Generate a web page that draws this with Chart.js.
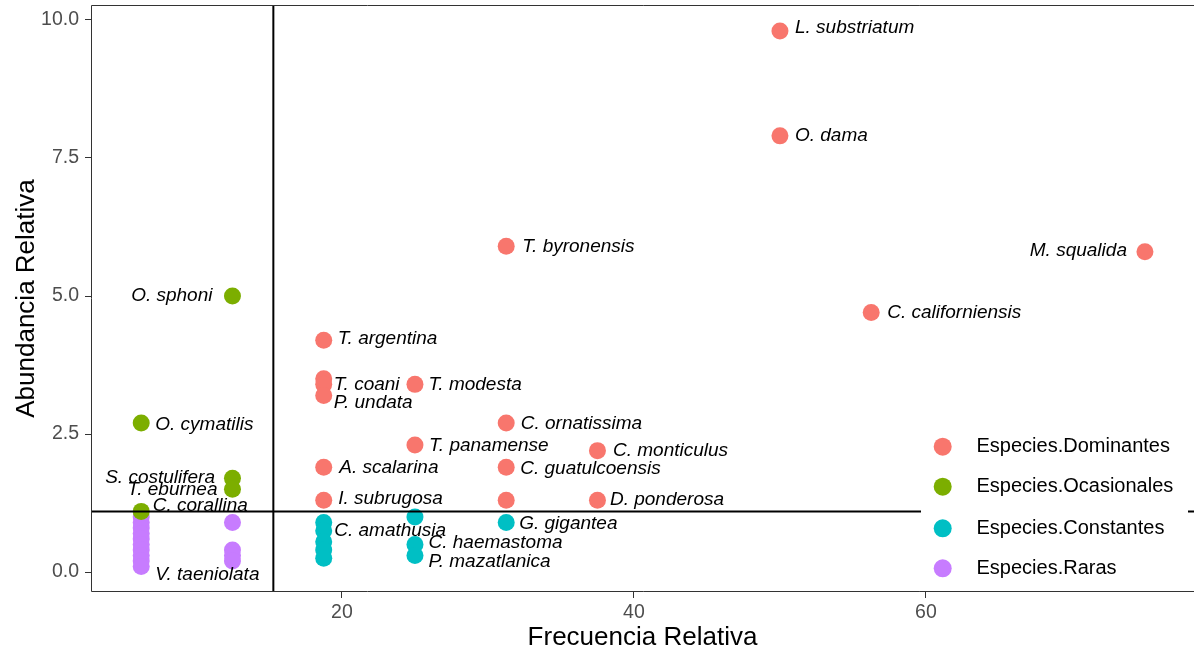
<!DOCTYPE html>
<html>
<head>
<meta charset="utf-8">
<script src="https://cdn.jsdelivr.net/npm/chart.js@4.4.1/dist/chart.umd.min.js"></script>
<style>
  html, body { margin: 0; padding: 0; background: #fff; }
  canvas { display: block; }
</style>
</head>
<body>
<canvas id="c" width="1194" height="653"></canvas>
<script>
// ---------- DATA ----------
const categories = ['Especies.Dominantes', 'Especies.Ocasionales', 'Especies.Constantes', 'Especies.Raras'];
const colors = ['#F8766D', '#7CAE00', '#00BFC4', '#C77CFF'];

const domFreq  = [50, 50, 31.25, 75, 56.25, 18.75, 18.75, 18.75, 18.75, 25, 31.25, 25, 37.5, 18.75, 31.25, 18.75, 31.25, 37.5];
const domAbund = [9.8, 7.9, 5.9, 5.8, 4.7, 4.2, 3.5, 3.4, 3.2, 3.4, 2.7, 2.3, 2.2, 1.9, 1.9, 1.3, 1.3, 1.3];
const domNames = ['L. substriatum', 'O. dama', 'T. byronensis', 'M. squalida', 'C. californiensis', 'T. argentina',
                  'T. coani', '', 'P. undata', 'T. modesta', 'C. ornatissima', 'T. panamense', 'C. monticulus',
                  'A. scalarina', 'C. guatulcoensis', 'I. subrugosa', '', 'D. ponderosa'];

const ocaFreq  = [12.5, 6.25, 12.5, 12.5, 6.25];
const ocaAbund = [5.0, 2.7, 1.7, 1.5, 1.1];
const ocaNames = ['O. sphoni', 'O. cymatilis', 'S. costulifera', 'T. eburnea', 'C. corallina'];

const conFreq  = [18.75, 18.75, 18.75, 18.75, 18.75, 25, 25, 25, 31.25];
const conAbund = [0.9, 0.75, 0.55, 0.4, 0.25, 1.0, 0.5, 0.3, 0.9];
const conNames = ['C. amathusia', '', '', '', '', '', 'C. haemastoma', 'P. mazatlanica', 'G. gigantea'];

const rarFreq  = [6.25, 6.25, 6.25, 6.25, 6.25, 6.25, 6.25, 6.25, 6.25, 6.25, 12.5, 12.5, 12.5, 12.5];
const rarAbund = [1.0, 0.9, 0.8, 0.7, 0.6, 0.5, 0.4, 0.3, 0.2, 0.1, 0.9, 0.4, 0.3, 0.2];
const rarNames = ['', '', '', '', '', '', '', '', '', 'V. taeniolata', '', '', '', ''];

const xTicks = [20, 40, 60];
const yTicks = [0, 2.5, 5.0, 7.5, 10.0];
const refFreq = 15.3;   // vertical reference line
const refAbund = 1.1;   // horizontal reference line

// ---------- LAYOUT (label placement offsets in px: dx, dy, align) ----------
const labelOffsets = {
  'L. substriatum': [15, -3, 'left'],
  'O. dama': [15, 0, 'left'],
  'T. byronensis': [16, 0, 'left'],
  'M. squalida': [-18, -1, 'right'],
  'C. californiensis': [16, 0, 'left'],
  'T. argentina': [14, -1, 'left'],
  'T. coani': [10, 6, 'left'],
  'P. undata': [10, 7, 'left'],
  'T. modesta': [13.5, 0, 'left'],
  'C. ornatissima': [14.5, 1, 'left'],
  'T. panamense': [14, 1, 'left'],
  'C. monticulus': [15.5, 0, 'left'],
  'A. scalarina': [15.5, 0.5, 'left'],
  'C. guatulcoensis': [14, 2, 'left'],
  'I. subrugosa': [14.5, -1.5, 'left'],
  'D. ponderosa': [12.5, -1, 'left'],
  'G. gigantea': [13, 1, 'left'],
  'C. amathusia': [10.5, 8, 'left'],
  'C. haemastoma': [13.5, -1.5, 'left'],
  'P. mazatlanica': [13.5, 6.5, 'left'],
  'O. sphoni': [-20, 0, 'right'],
  'O. cymatilis': [14, 2, 'left'],
  'S. costulifera': [-17.5, -0.5, 'right'],
  'T. eburnea': [-15, 0, 'right'],
  'C. corallina': [11.5, -6, 'left'],
  'V. taeniolata': [14, 8, 'left']
};

const FONT = '"Liberation Sans", Arial, sans-serif';

function pts(xs, ys) { return xs.map((v, i) => ({ x: v, y: ys[i] })); }

const seriesX = [domFreq, ocaFreq, conFreq, rarFreq];
const seriesY = [domAbund, ocaAbund, conAbund, rarAbund];
const seriesN = [domNames, ocaNames, conNames, rarNames];

const datasets = categories.map((c, i) => ({
  label: c,
  data: pts(seriesX[i], seriesY[i]),
  names: seriesN[i],
  backgroundColor: colors[i],
  borderWidth: 0,
  pointRadius: 8.5,
  pointHoverRadius: 8.5
}));

function noPad(s) { s.paddingTop = 0; s.paddingBottom = 0; s.paddingLeft = 0; s.paddingRight = 0; }

const annot = {
  id: 'annot',
  afterDatasetsDraw(chart) {
    const { ctx, chartArea: a, scales: { x, y } } = chart;
    ctx.save();
    ctx.font = 'italic 19px ' + FONT;
    ctx.fillStyle = '#000';
    ctx.textBaseline = 'middle';
    chart.data.datasets.forEach((ds, i) => {
      const meta = chart.getDatasetMeta(i);
      ds.names.forEach((name, j) => {
        if (!name) return;
        const el = meta.data[j];
        const off = labelOffsets[name] || [14, 0, 'left'];
        ctx.textAlign = off[2];
        ctx.fillText(name, el.x + off[0], el.y + off[1]);
      });
    });
    // reference lines
    const vx = x.getPixelForValue(refFreq);
    const hy = y.getPixelForValue(refAbund);
    ctx.strokeStyle = '#000';
    ctx.lineWidth = 2;
    ctx.beginPath();
    ctx.moveTo(vx, a.top); ctx.lineTo(vx, a.bottom);
    ctx.moveTo(a.left, hy); ctx.lineTo(a.right, hy);
    ctx.stroke();
    ctx.restore();
  },
  afterDraw(chart) {
    const { ctx, chartArea: a } = chart;
    ctx.save();
    // legend inside panel
    ctx.fillStyle = '#fff';
    ctx.fillRect(921, 426, 267, 164);
    const ly = [446.7, 486.7, 528.3, 568.3];
    ctx.font = '20px ' + FONT;
    ctx.textAlign = 'left';
    ctx.textBaseline = 'middle';
    chart.data.datasets.forEach((ds, i) => {
      ctx.fillStyle = ds.backgroundColor;
      ctx.beginPath();
      ctx.arc(942.7, ly[i], 9, 0, Math.PI * 2);
      ctx.fill();
      ctx.fillStyle = '#000';
      ctx.fillText(ds.label, 976.5, ly[i]);
    });
    // panel border (right edge falls outside the picture)
    ctx.strokeStyle = '#333333';
    ctx.lineWidth = 1;
    ctx.beginPath();
    ctx.moveTo(a.right + 5, a.top + 0.5); ctx.lineTo(a.left + 0.5, a.top + 0.5);
    ctx.lineTo(a.left + 0.5, a.bottom - 0.5); ctx.lineTo(a.right + 5, a.bottom - 0.5);
    ctx.stroke();
    ctx.restore();
  }
};

new Chart(document.getElementById('c'), {
  type: 'scatter',
  data: { datasets },
  plugins: [annot],
  options: {
    responsive: false,
    animation: false,
    events: [],
    layout: { autoPadding: false, padding: { top: 5, right: 0, left: 0, bottom: 0 } },
    plugins: { legend: { display: false }, tooltip: { enabled: false } },
    scales: {
      x: {
        type: 'linear',
        min: 2.81, max: 78.36,
        afterBuildTicks: s => { s.ticks = xTicks.map(v => ({ value: v })); },
        afterFit: s => { s.height = 61; noPad(s); },
        grid: { drawOnChartArea: false, tickLength: 6, color: '#333333', tickColor: '#333333' },
        border: { display: false },
        ticks: { font: { family: FONT, size: 19.5 }, color: '#4D4D4D', padding: 3, maxRotation: 0,
                 callback: v => String(v) },
        title: { display: true, text: 'Frecuencia Relativa', color: '#000',
                 font: { family: FONT, size: 26 }, padding: { top: 0, bottom: 0 } }
      },
      y: {
        type: 'linear',
        min: -0.36, max: 10.27,
        afterBuildTicks: s => { s.ticks = yTicks.map(v => ({ value: v })); },
        afterFit: s => { s.width = 91; noPad(s); },
        grid: { drawOnChartArea: false, tickLength: 6, color: '#333333', tickColor: '#333333' },
        border: { display: false },
        ticks: { font: { family: FONT, size: 19.5 }, color: '#4D4D4D', padding: 6,
                 callback: v => Number(v).toFixed(1) },
        title: { display: true, text: 'Abundancia Relativa', color: '#000',
                 font: { family: FONT, size: 26 }, padding: { top: 11.4, bottom: 0 } }
      }
    }
  }
});
</script>
</body>
</html>
